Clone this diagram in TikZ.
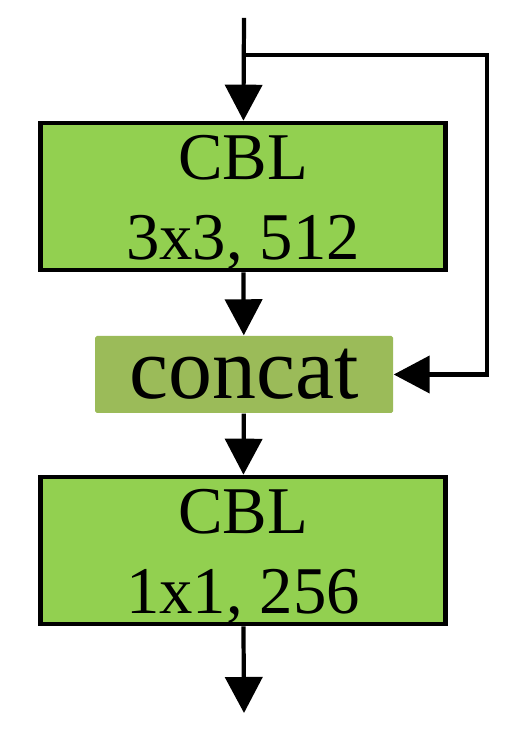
\documentclass[tikz,border=0pt]{standalone}
\usepackage{fontspec}
\setmainfont{Liberation Serif}
\usetikzlibrary{arrows.meta}
\definecolor{cblgreen}{HTML}{92D050}
\definecolor{catgreen}{HTML}{9BBB59}
\newcommand{\topstrut}{\rule{0pt}{0.57cm}}
\tikzset{
  cbl/.style={draw, line width=1.2pt, fill=cblgreen, minimum width=4.05cm,
    minimum height=1.45cm, inner sep=0pt, align=center,
    font=\fontsize{19}{22.8}\selectfont},
  cat/.style={fill=catgreen, rounded corners=0.5pt, minimum width=2.98cm,
    minimum height=0.77cm, inner sep=0pt, font=\fontsize{25}{30}\selectfont},
  arr/.style={line width=1.2pt, -{Triangle[length=0.36cm,width=0.37cm]}}
}
\begin{document}
\begin{tikzpicture}
  \useasboundingbox (0,0) rectangle (5.12,-7.40);
  \node[cbl] (cbl1) at (2.43,-1.965) {\topstrut CBL\\3x3, 512};
  \node[cat] (concat) at (2.44,-3.745) {concat};
  \node[cbl] (cbl2) at (2.43,-5.505) {\topstrut CBL\\1x1, 256};
  \coordinate (in) at (2.44,-0.18);
  \coordinate (split) at (2.44,-0.55);
  \coordinate (loop) at (4.87,-0.55);
  \coordinate (out) at (2.44,-7.13);
  % main path
  \draw[arr] (in) -- (cbl1);
  \draw[arr] (cbl1) -- (concat);
  \draw[arr] (concat) -- (cbl2);
  \draw[arr] (cbl2) -- (out);
  % skip connection
  \draw[arr] (split) -- (loop) |- (concat.east);
\end{tikzpicture}
\end{document}
